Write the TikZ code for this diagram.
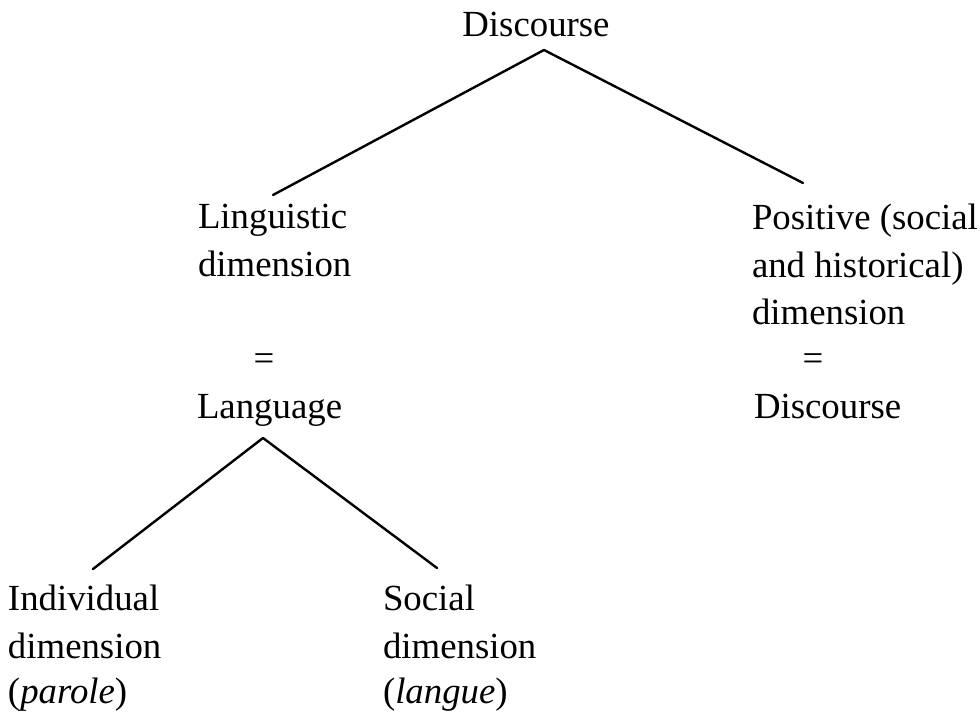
\documentclass[tikz,border=0pt]{standalone}
\usepackage{fontspec}
\setmainfont{Liberation Serif}
\begin{document}
\begin{tikzpicture}[x=0.5pt,y=-0.5pt,
  lbl/.style={inner sep=0pt,outer sep=0pt,anchor=base west,font=\fontsize{18.4}{24}\selectfont},
  eq/.style={inner sep=0pt,outer sep=0pt,anchor=center,font=\fontsize{18.4}{24}\selectfont},
  branch/.style={line width=1.2pt,line cap=round,line join=round}]
\useasboundingbox (0,0) rectangle (980,716);
% top
\node[lbl,anchor=base] (disc) at (536,37) {Discourse};
% left column
\node[lbl] (ling1) at (198,229) {Linguistic};
\node[lbl] (ling2) at (198,277) {dimension};
\node[eq] (eqL) at (264,362) {=};
\node[lbl] (lang) at (197,419) {Language};
% right column
\node[lbl] (pos1) at (752,230) {Positive (social};
\node[lbl] (pos2) at (752,278) {and historical)};
\node[lbl] (pos3) at (752,325) {dimension};
\node[eq] (eqR) at (813,362) {=};
\node[lbl] (disc2) at (754,419) {Discourse};
% bottom
\node[lbl] (ind1) at (8,610) {Individual};
\node[lbl] (ind2) at (8,658) {dimension};
\node[lbl] (ind3) at (8,703) {(\textit{parole})};
\node[lbl] (soc1) at (383,610) {Social};
\node[lbl] (soc2) at (383,658) {dimension};
\node[lbl] (soc3) at (383,703) {(\textit{langue})};
% connector points
\coordinate (apexA) at (544,50);
\coordinate (endA1) at (273,195);
\coordinate (endA2) at (803,183);
\coordinate (apexB) at (263,438);
\coordinate (endB1) at (93,569);
\coordinate (endB2) at (437,568);
\draw[branch] (endA1) -- (apexA) -- (endA2);
\draw[branch] (endB1) -- (apexB) -- (endB2);
\end{tikzpicture}
\end{document}
